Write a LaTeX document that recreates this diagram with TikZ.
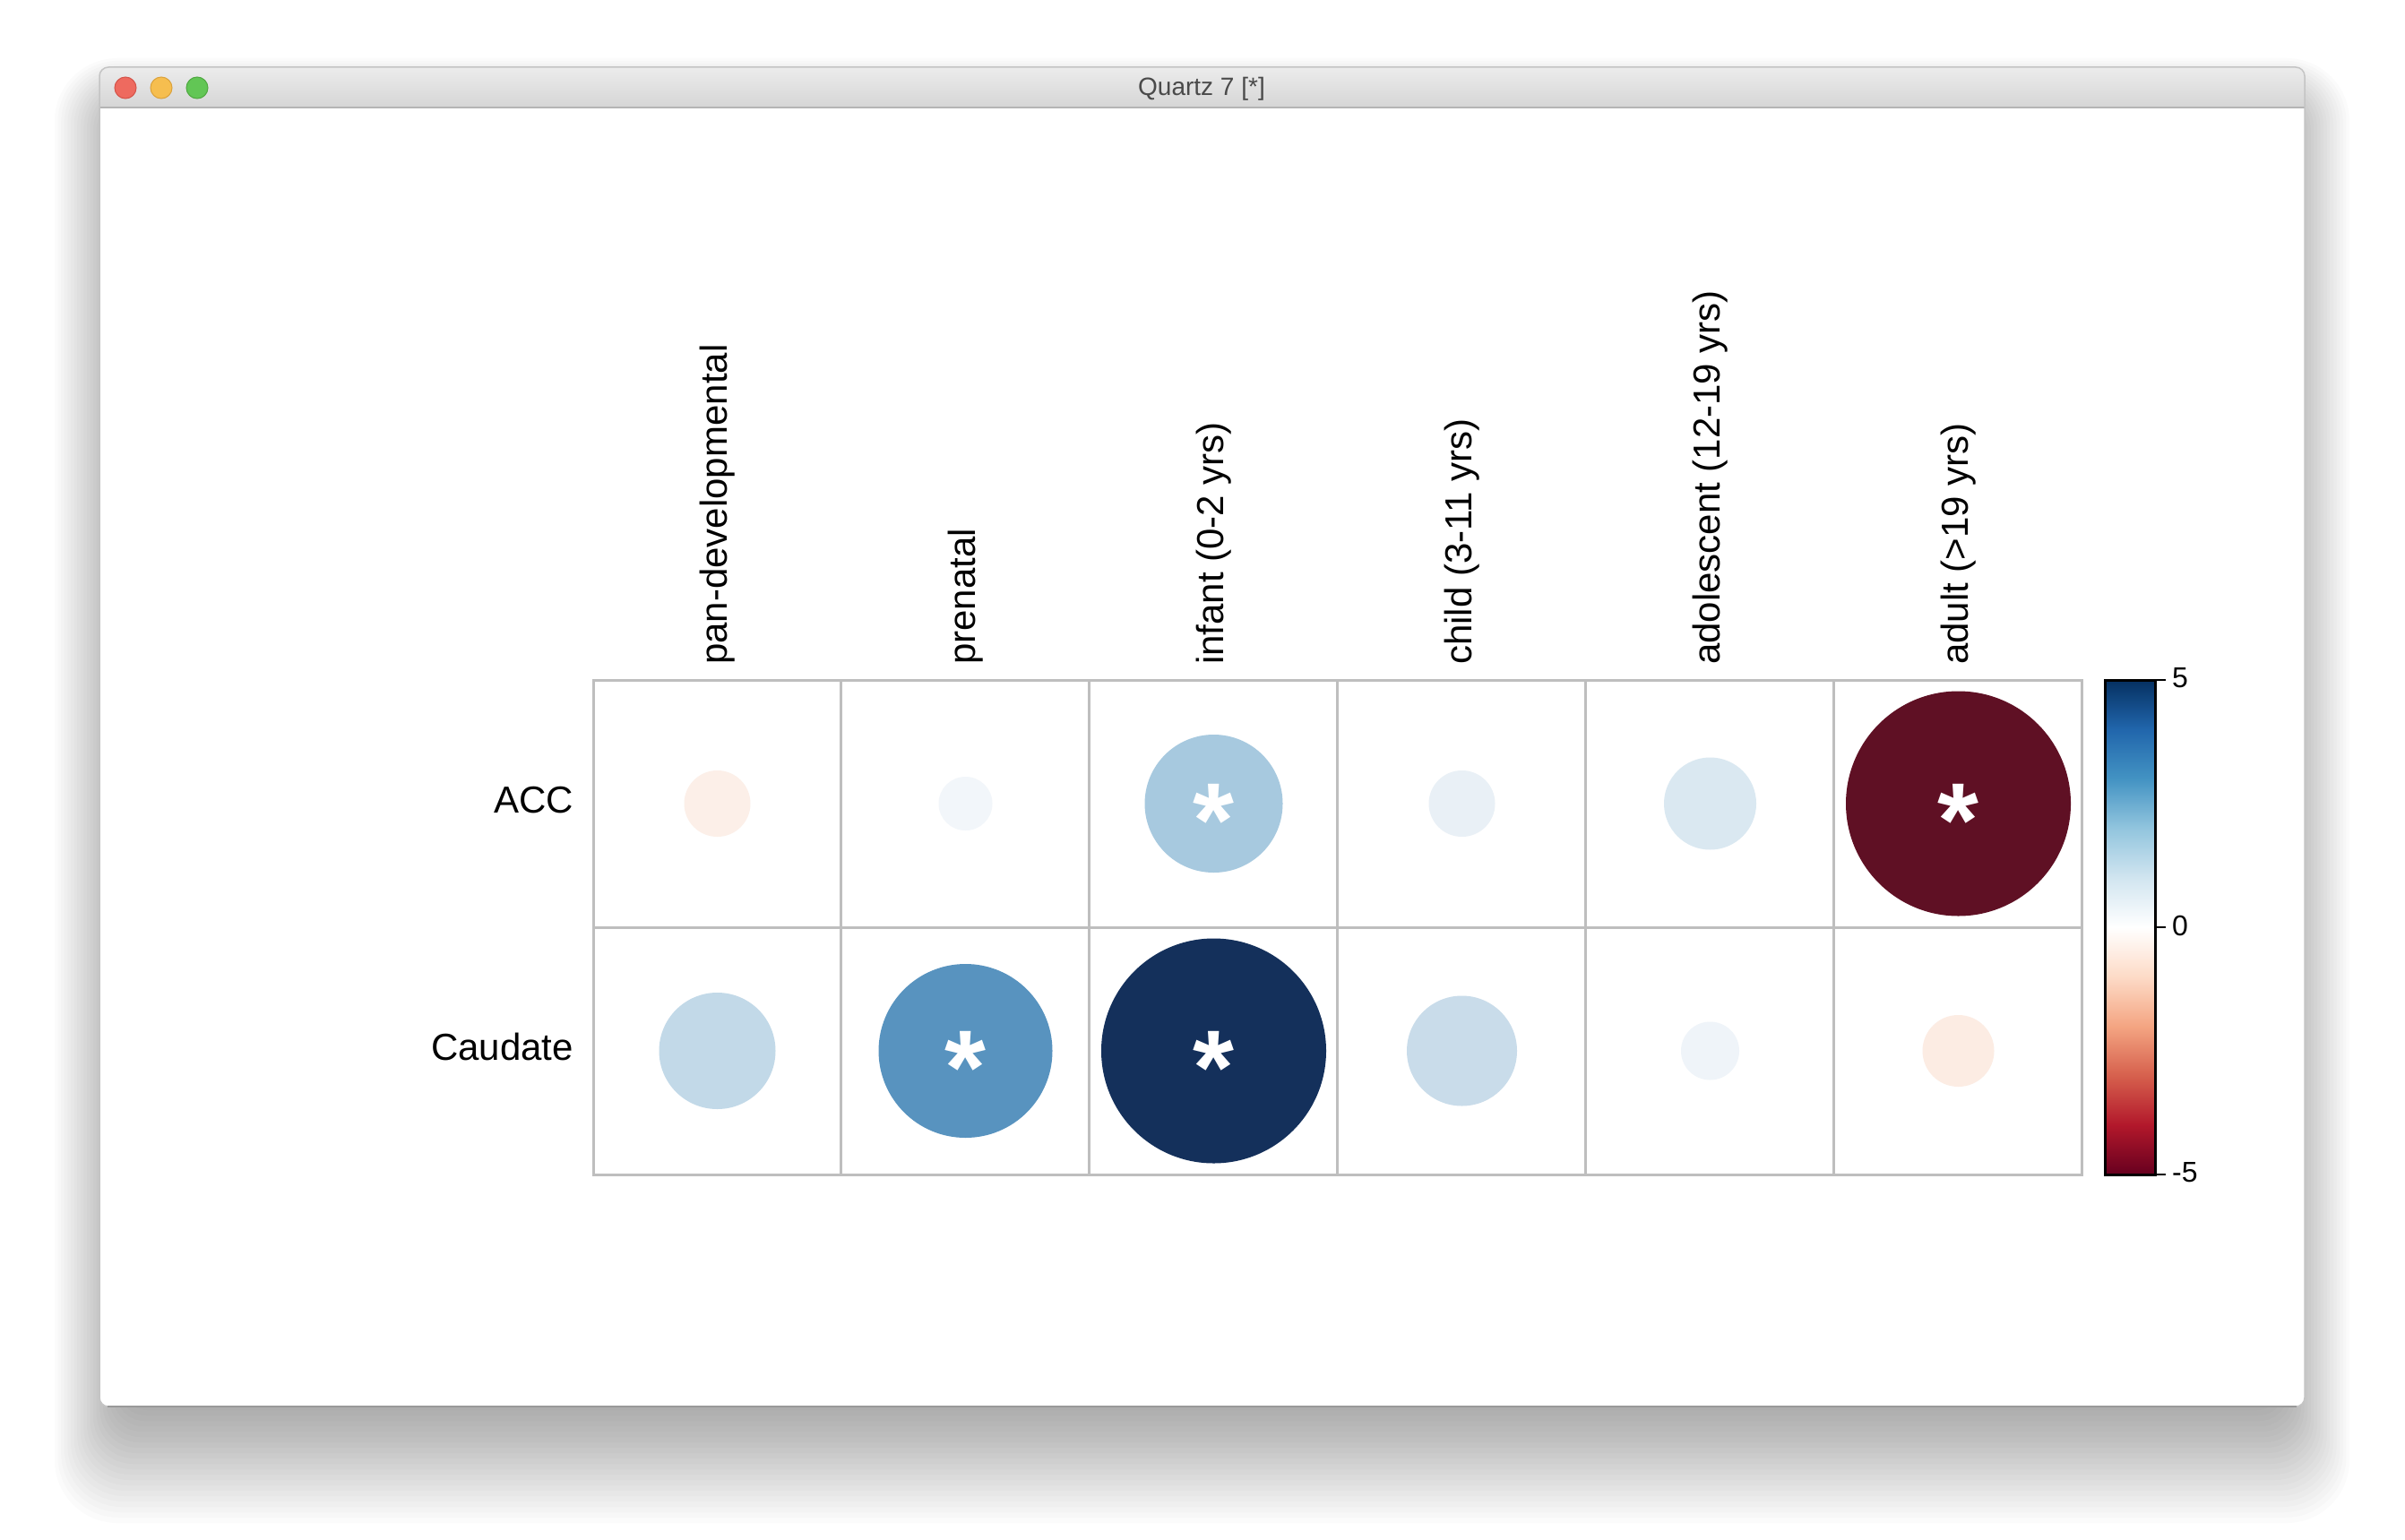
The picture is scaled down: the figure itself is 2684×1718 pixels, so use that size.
\documentclass[tikz,border=0pt]{standalone}
\usepackage{fontspec}
\setmainfont{Liberation Sans}
\definecolor{gridgray}{HTML}{BEBEBE}
\definecolor{winborder}{HTML}{C4C4C4}
\definecolor{tbtop}{HTML}{ECECEC}
\definecolor{tbbot}{HTML}{D5D5D5}
\definecolor{tbline}{HTML}{B4B4B4}
\definecolor{titlegray}{HTML}{4A4A4A}
\definecolor{lred}{HTML}{EE6A5F}\definecolor{lredb}{HTML}{D4544A}
\definecolor{lyel}{HTML}{F6BE4F}\definecolor{lyelb}{HTML}{DBA23C}
\definecolor{lgrn}{HTML}{62C655}\definecolor{lgrnb}{HTML}{4FA840}
\definecolor{c11}{HTML}{FCEFE8}
\definecolor{c12}{HTML}{F2F6FA}
\definecolor{c13}{HTML}{A7C9DF}
\definecolor{c14}{HTML}{E9F0F6}
\definecolor{c15}{HTML}{DAE8F1}
\definecolor{c16}{HTML}{5F1024}
\definecolor{c21}{HTML}{C2D9E8}
\definecolor{c22}{HTML}{5893BF}
\definecolor{c23}{HTML}{14305B}
\definecolor{c24}{HTML}{C9DCEA}
\definecolor{c25}{HTML}{EFF4F9}
\definecolor{c26}{HTML}{FCECE3}
\definecolor{b0}{HTML}{67001F}
\definecolor{b1}{HTML}{B2182B}
\definecolor{b2}{HTML}{D6604D}
\definecolor{b3}{HTML}{F4A582}
\definecolor{b4}{HTML}{FDDBC7}
\definecolor{b5}{HTML}{FFFFFF}
\definecolor{b6}{HTML}{D1E5F0}
\definecolor{b7}{HTML}{92C5DE}
\definecolor{b8}{HTML}{4393C3}
\definecolor{b9}{HTML}{2166AC}
\definecolor{b10}{HTML}{053061}
\pgfdeclareverticalshading{rdbu}{100bp}{color(0bp)=(b0); color(25bp)=(b0); color(30bp)=(b1); color(35bp)=(b2); color(40bp)=(b3); color(45bp)=(b4); color(50bp)=(b5); color(55bp)=(b6); color(60bp)=(b7); color(65bp)=(b8); color(70bp)=(b9); color(75bp)=(b10); color(100bp)=(b10)}
\begin{document}
\begin{tikzpicture}[x=1pt,y=-1pt,
  gridline/.style={draw=gridgray, line width=3pt},
  dot/.style={circle, inner sep=0pt, minimum size=#1},
  lab/.style={font=\fontsize{42}{50}\selectfont, inner sep=0pt},
  collab/.style={lab, rotate=90, anchor=west},
  star/.style={font=\fontsize{118}{120}\selectfont\bfseries, text=white, inner sep=0pt, anchor=base},
  ticklab/.style={font=\fontsize{32}{38}\selectfont, inner sep=0pt, anchor=west},
  light/.style={circle, inner sep=0pt, minimum size=24pt, line width=1pt}
]
\useasboundingbox (0,0) rectangle (2684,1718);
\fill[white] (0,0) rectangle (2684,1718);
% shadow (layered soft shadow)
\foreach \s [evaluate=\s as \r using 20+0.5*\s] in {0,4,...,100} {
  \fill[black, opacity=0.015, rounded corners=\r pt] ({151-0.9*\s},{135-0.7*\s}) rectangle ({2532+0.9*\s},{1550+1.5*\s});
}
% window
\fill[white, rounded corners=10pt] (111,75) rectangle (2572,1570);
\begin{scope}
  \clip[rounded corners=10pt] (111,75) rectangle (2572,1570);
  \shade[top color=tbtop, bottom color=tbbot] (111,75) rectangle (2572,120);
\end{scope}
\draw[tbline, line width=1.5pt] (111,120) -- (2572,120);
\draw[winborder, line width=1.5pt, rounded corners=10pt] (111,75) rectangle (2572,1570);
\draw[black!40, line width=1.5pt] (120,1570) -- (2563,1570);
\node[light, fill=lred, draw=lredb] (close) at (140,98) {};
\node[light, fill=lyel, draw=lyelb] (minim) at (180,98) {};
\node[light, fill=lgrn, draw=lgrnb] (zoom) at (220,98) {};
\node[font=\fontsize{28}{32}\selectfont, text=titlegray, inner sep=0pt] (title) at (1341,99) {Quartz 7 [*]};
% circles row ACC
\node[dot=74pt, fill=c11] (a1) at (800.5,897) {};
\node[dot=60pt, fill=c12] (a2) at (1077.5,897) {};
\node[dot=154pt, fill=c13] (a3) at (1354.5,897) {};
\node[dot=74pt, fill=c14] (a4) at (1631.5,897) {};
\node[dot=103pt, fill=c15] (a5) at (1908.5,897) {};
\node[dot=251pt, fill=c16] (a6) at (2185.5,897) {};
% circles row Caudate
\node[dot=130pt, fill=c21] (b1) at (800.5,1173) {};
\node[dot=194pt, fill=c22] (b2) at (1077.5,1173) {};
\node[dot=251pt, fill=c23] (b3) at (1354.5,1173) {};
\node[dot=123pt, fill=c24] (b4) at (1631.5,1173) {};
\node[dot=65pt, fill=c25] (b5) at (1908.5,1173) {};
\node[dot=80pt, fill=c26] (b6) at (2185.5,1173) {};
% asterisks
\node[star] (sa3) at (1354.5,956) {*};
\node[star] (sa6) at (2185.5,956) {*};
\node[star] (sb2) at (1077.5,1232) {*};
\node[star] (sb3) at (1354.5,1232) {*};
% grid
\draw[gridline] (662,759) rectangle (2323,1311);
\draw[gridline] (662,1035) -- (2323,1035);
\foreach \k in {1,...,5} { \draw[gridline] ({662+276.8*\k},759) -- ({662+276.8*\k},1311); }
% row labels
\node[lab, anchor=east] (racc) at (640,893) {ACC};
\node[lab, anchor=east] (rcau) at (640,1168) {Caudate};
% column labels
\node[collab] (l1) at (800.5,742) {pan-developmental};
\node[collab] (l2) at (1077.5,742) {prenatal};
\node[collab] (l3) at (1354.5,742) {infant (0-2 yrs)};
\node[collab] (l4) at (1631.5,742) {child (3-11 yrs)};
\node[collab] (l5) at (1908.5,742) {adolescent (12-19 yrs)};
\node[collab] (l6) at (2185.5,742) {adult (>19 yrs)};
% colour bar
\shade[shading=rdbu] (2349,759) rectangle (2405,1311);
\draw[line width=3pt] (2349,759) rectangle (2405,1311);
\coordinate (t5) at (2405,759);
\coordinate (t0) at (2405,1035);
\coordinate (tm5) at (2405,1311);
\draw[line width=2.5pt] (t5) -- ++(12,0);
\draw[line width=2.5pt] (t0) -- ++(12,0);
\draw[line width=2.5pt] (tm5) -- ++(12,0);
\node[ticklab] (v5) at (2424,757) {5};
\node[ticklab] (v0) at (2424,1033) {0};
\node[ticklab] (vm5) at (2424,1309) {-5};
\end{tikzpicture}
\end{document}
